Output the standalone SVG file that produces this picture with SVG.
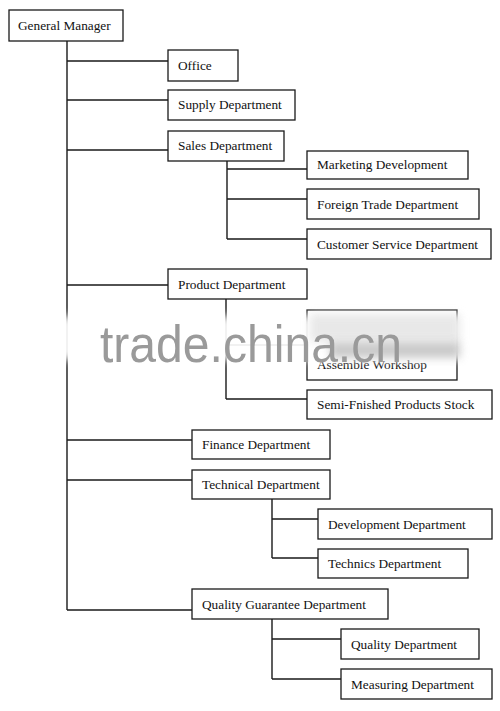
<svg xmlns="http://www.w3.org/2000/svg" width="500" height="711" viewBox="0 0 500 711">
<style>
.box{fill:#fff;stroke:#1a1a1a;stroke-width:1.3}
.lbl{font-family:"Liberation Serif","Times New Roman",serif;font-size:13.3px;fill:#111}
.con{stroke:#1a1a1a;stroke-width:1.4;fill:none}
.wm{font-family:"Liberation Sans",Arial,sans-serif;font-size:52px;fill:#9a9a9a}
</style>
<defs>
<filter id="blur" x="-20%" y="-50%" width="140%" height="200%"><feGaussianBlur stdDeviation="4"/></filter>
</defs>
<rect width="500" height="711" fill="#fff"/>
<g id="connectors">
<path class="con" d="M67 41V610M67 61H168M67 100H168M67 150H168M67 285H168M67 440H192M67 480H192M67 610H192"/>
<path class="con" d="M227 161V239M227 169H307M227 199H307M227 239H307"/>
<path class="con" d="M226 299V399M226 345H307M226 399H307"/>
<path class="con" d="M272 499V558M272 519H318M272 558H318"/>
<path class="con" d="M272 619V679M272 639H341M272 679H341"/>
</g>
<g id="general-manager"><rect class="box" x="9" y="10" width="114" height="31"/><text class="lbl" x="18" y="30">General Manager</text></g>
<g id="office"><rect class="box" x="168" y="50" width="70" height="31"/><text class="lbl" x="178" y="70">Office</text></g>
<g id="supply"><rect class="box" x="168" y="90" width="127" height="30"/><text class="lbl" x="178" y="109">Supply Department</text></g>
<g id="sales"><rect class="box" x="168" y="131" width="116" height="30"/><text class="lbl" x="178" y="150">Sales Department</text></g>
<g id="marketing"><rect class="box" x="307" y="151" width="161" height="28"/><text class="lbl" x="317" y="169">Marketing Development</text></g>
<g id="foreign-trade"><rect class="box" x="307" y="189" width="172" height="30"/><text class="lbl" x="317" y="209">Foreign Trade Department</text></g>
<g id="customer-service"><rect class="box" x="307" y="229" width="184" height="30"/><text class="lbl" x="317" y="249">Customer Service Department</text></g>
<g id="product"><rect class="box" x="168" y="269" width="139" height="30"/><text class="lbl" x="178" y="289">Product Department</text></g>
<g id="assemble"><rect class="box" x="307" y="310" width="150" height="70"/><text class="lbl" x="317" y="369">Assemble Workshop</text></g>
<g id="semi-finished"><rect class="box" x="307" y="390" width="185" height="29"/><text class="lbl" x="317" y="409">Semi-Fnished Products Stock</text></g>
<g id="finance"><rect class="box" x="192" y="430" width="138" height="29"/><text class="lbl" x="202" y="449">Finance Department</text></g>
<g id="technical"><rect class="box" x="192" y="470" width="138" height="29"/><text class="lbl" x="202" y="489">Technical Department</text></g>
<g id="development"><rect class="box" x="318" y="509" width="174" height="30"/><text class="lbl" x="328" y="529">Development Department</text></g>
<g id="technics"><rect class="box" x="318" y="549" width="150" height="29"/><text class="lbl" x="328" y="568">Technics Department</text></g>
<g id="quality-guarantee"><rect class="box" x="192" y="589" width="196" height="30"/><text class="lbl" x="202" y="609">Quality Guarantee Department</text></g>
<g id="quality"><rect class="box" x="341" y="629" width="138" height="30"/><text class="lbl" x="351" y="649">Quality Department</text></g>
<g id="measuring"><rect class="box" x="341" y="669" width="151" height="30"/><text class="lbl" x="351" y="689">Measuring Department</text></g>
<g id="watermark">
<rect x="45" y="316" width="425" height="44" fill="#fff" opacity="0.92" filter="url(#blur)"/>
<rect x="310" y="314" width="150" height="28" fill="#e6e6e6" opacity="0.9" filter="url(#blur)"/>
<rect x="330" y="342" width="130" height="16" fill="#bdbdbd" opacity="0.8" filter="url(#blur)"/>
<text class="wm" x="100" y="362" textLength="302" lengthAdjust="spacingAndGlyphs">trade.china.cn</text>
</g>
</svg>
